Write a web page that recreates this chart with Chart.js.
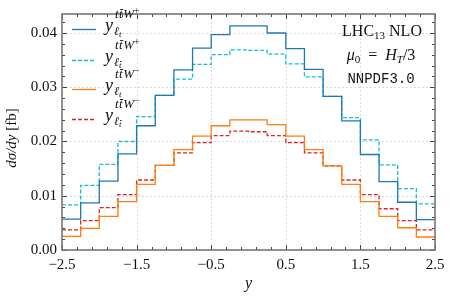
<!DOCTYPE html>
<html><head><meta charset="utf-8">
<script src="https://cdn.jsdelivr.net/npm/chart.js@4.4.1/dist/chart.umd.min.js"></script>
<style>html,body{margin:0;padding:0;background:#fff}#wrap{width:454px;height:297px}</style>
</head><body><div id="wrap"><canvas id="c" width="454" height="297"></canvas></div>
<script>
// bin edges (20 bins of width 0.25)
const binEdges = [-2.5,-2.25,-2.0,-1.75,-1.5,-1.25,-1.0,-0.75,-0.5,-0.25,0.0,0.25,0.5,0.75,1.0,1.25,1.5,1.75,2.0,2.25,2.5];
const ttWplus_lt    = [0.0057,0.0087,0.0127,0.0177,0.0229,0.0285,0.0332,0.0372,0.0397,0.0413,0.0413,0.0400,0.0371,0.0333,0.0283,0.0238,0.0176,0.0126,0.0088,0.0056];
const ttWplus_ltbar = [0.0083,0.0119,0.0158,0.0200,0.0246,0.0285,0.0315,0.0342,0.0360,0.0369,0.0368,0.0361,0.0343,0.0319,0.0283,0.0244,0.0203,0.0157,0.0113,0.0085];
const ttWminus_lt   = [0.0025,0.0040,0.0062,0.0089,0.0121,0.0156,0.0185,0.0210,0.0229,0.0240,0.0240,0.0231,0.0210,0.0185,0.0155,0.0121,0.0089,0.0062,0.0041,0.0024];
const ttWminus_ltbar= [0.0037,0.0054,0.0078,0.0102,0.0129,0.0156,0.0179,0.0198,0.0211,0.0219,0.0218,0.0211,0.0198,0.0179,0.0155,0.0129,0.0102,0.0076,0.0054,0.0037];
const xMajorTicks = [-2.5,-1.5,-0.5,0.5,1.5,2.5];
const yMajorTicks = [0.00,0.01,0.02,0.03,0.04];
const seriesNames = ['W+ lt','W+ ltbar','W- lt','W- ltbar'];

function toSteps(vals){
  // value of bin i is carried by its left edge; last edge repeats last bin
  return binEdges.map((e,i)=>({x:e, y: vals[Math.min(i, vals.length-1)]}));
}
const SERIF = '"Liberation Serif", "DejaVu Serif", serif';

function drawSeq(ctx, segs, x, y, align){
  let w = 0;
  segs.forEach(s=>{ctx.font=s.f; s.w = ctx.measureText(s.t).width + (s.gap||0); w += s.w;});
  let cx = align==='center' ? x - w/2 : x;
  ctx.textAlign='left'; ctx.textBaseline='alphabetic';
  segs.forEach(s=>{ctx.font=s.f; ctx.fillText(s.t, cx, y + (s.dy||0)); if(s.bar){ctx.fillRect(cx+1, y+(s.dy||0)-s.bar, s.w-1, 0.9);} cx += s.w;});
  return cx;
}

const decor = {
  id:'decor',
  beforeDatasetsDraw(chart){
    const {ctx, chartArea:a, scales:{x,y}} = chart;
    ctx.save();
    ctx.strokeStyle='#d4d4d4'; ctx.lineWidth=0.8; ctx.setLineDash([2,2]);
    xMajorTicks.forEach(v=>{const px=Math.round(x.getPixelForValue(v))+0.5; if(px>a.left+2&&px<a.right-2){ctx.beginPath();ctx.moveTo(px,a.top);ctx.lineTo(px,a.bottom);ctx.stroke();}});
    yMajorTicks.forEach(v=>{const py=Math.round(y.getPixelForValue(v))+0.5; if(py>a.top+2&&py<a.bottom-2){ctx.beginPath();ctx.moveTo(a.left,py);ctx.lineTo(a.right,py);ctx.stroke();}});
    ctx.restore();
  },
  afterDatasetsDraw(chart){
    const {ctx, chartArea:a, scales:{x,y}} = chart;
    ctx.save();
    ctx.strokeStyle='#444'; ctx.lineWidth=1;
    x.ticks.forEach(t=>{
      const px=Math.round(x.getPixelForValue(t.value))+0.5;
      const major = xMajorTicks.some(m=>Math.abs(m-t.value)<1e-6);
      const L = major?5:3;
      ctx.beginPath();ctx.moveTo(px,a.bottom);ctx.lineTo(px,a.bottom-L);ctx.moveTo(px,a.top);ctx.lineTo(px,a.top+L);ctx.stroke();
    });
    y.ticks.forEach(t=>{
      const py=Math.round(y.getPixelForValue(t.value))+0.5;
      const major = yMajorTicks.some(m=>Math.abs(m-t.value)<1e-6);
      const L = major?5:3;
      ctx.beginPath();ctx.moveTo(a.left,py);ctx.lineTo(a.left+L,py);ctx.moveTo(a.right,py);ctx.lineTo(a.right-L,py);ctx.stroke();
    });
    ctx.strokeStyle='#777'; ctx.lineWidth=1.6;
    ctx.strokeRect(a.left, a.top, a.right-a.left, a.bottom-a.top);
    // legend
    const colors = chart.data.datasets.map(d=>d.borderColor);
    const dashes = chart.data.datasets.map(d=>d.borderDash||[]);
    const rows = [29,60,89,119];
    const sups = ['+','+','\u2212','\u2212'];
    const barSub = [false,true,false,true];
    rows.forEach((ry,i)=>{
      ctx.strokeStyle=colors[i]; ctx.lineWidth=1.3; ctx.setLineDash(dashes[i]);
      ctx.beginPath(); ctx.moveTo(72,ry+0.5); ctx.lineTo(96,ry+0.5); ctx.stroke();
      ctx.setLineDash([]);
      ctx.fillStyle='#111';
      drawSeq(ctx,[{t:'y',f:'italic 18px '+SERIF}],105,ry+2,'left');
      const sf='italic 13px '+SERIF;
      drawSeq(ctx,[{t:'t',f:sf,gap:0.5},{t:'t',f:sf,bar:9,gap:0.5},{t:'W',f:sf},{t:sups[i],f:'10px '+SERIF,dy:-4}],115,ry-11,'left');
      const sub=[{t:'\u2113',f:'italic 12px '+SERIF},{t:'t',f:'italic 9px '+SERIF,dy:2,bar:barSub[i]?7:0}];
      drawSeq(ctx,sub,114,ry+6,'left');
    });
    // annotation
    ctx.fillStyle='#111';
    drawSeq(ctx,[{t:'LHC',f:'16px '+SERIF},{t:'13',f:'11px '+SERIF,dy:3},{t:' NLO',f:'16px '+SERIF}],382,36,'center');
    drawSeq(ctx,[{t:'\u03bc',f:'italic 16px '+SERIF},{t:'0',f:'11px '+SERIF,dy:3},{t:'  =  ',f:'16px '+SERIF},{t:'H',f:'italic 16px '+SERIF},{t:'T',f:'italic 11px '+SERIF,dy:3},{t:'/3',f:'16px '+SERIF}],381,60,'center');
    drawSeq(ctx,[{t:'NNPDF3.0',f:'14px "Liberation Mono", "DejaVu Sans Mono", monospace'}],381,83,'center');
    ctx.save();
    ctx.translate(16,138); ctx.rotate(-Math.PI/2);
    drawSeq(ctx,[{t:'d\u03c3/dy',f:'italic 15px '+SERIF},{t:' [fb]',f:'15px '+SERIF}],0,0,'center');
    ctx.restore();
    ctx.restore();
  }
};

const ds = (label, vals, color, dash)=>({label, data: toSteps(vals), borderColor: color, borderDash: dash, borderWidth: 1.3, stepped:'before', pointRadius:0, fill:false, tension:0});

new Chart(document.getElementById('c'), {
  type:'line',
  data:{datasets:[
    ds(seriesNames[0], ttWplus_lt, '#1f77b4', []),
    ds(seriesNames[1], ttWplus_ltbar, '#17becf', [4,2]),
    ds(seriesNames[2], ttWminus_lt, '#ff7f0e', []),
    ds(seriesNames[3], ttWminus_ltbar, '#d62728', [4,2]),
  ]},
  options:{
    responsive:false, animation:false, devicePixelRatio:1,
    layout:{padding:{left:0,right:19,top:7,bottom:0}},
    plugins:{legend:{display:false}, tooltip:{enabled:false}},
    scales:{
      x:{type:'linear', min:-2.5, max:2.5,
        afterBuildTicks(s){ const t=[]; for(let k=0;k<=25;k++){ t.push({value: Math.round((-2.5+0.2*k)*10)/10}); } s.ticks=t; },
        afterFit(s){ s.height = 47; },
        grid:{display:false, drawTicks:false}, border:{display:false},
        ticks:{autoSkip:false, maxRotation:0, padding:6, color:'#111', font:{family:SERIF, size:15},
          callback(v){ const m = xMajorTicks.find(q=>Math.abs(q-v)<1e-6); return m===undefined ? '' : (m<0?'\u2212':'')+Math.abs(m).toFixed(1); }},
        title:{display:true, text:'y', color:'#111', font:{family:SERIF, size:16, style:'italic'}, padding:{top:0,bottom:4}}
      },
      y:{type:'linear', min:0, max:0.0435,
        afterBuildTicks(s){ const t=[]; for(let k=0;k<=21;k++){ t.push({value: Math.round(0.002*k*1000)/1000}); } s.ticks=t; },
        afterFit(s){ s.width = 62; },
        grid:{display:false, drawTicks:false}, border:{display:false},
        ticks:{autoSkip:false, padding:5, color:'#111', font:{family:SERIF, size:15},
          callback(v){ const m = yMajorTicks.find(q=>Math.abs(q-v)<1e-9); return m===undefined ? '' : m.toFixed(2); }}
      }
    }
  },
  plugins:[decor]
});
</script></body></html>
